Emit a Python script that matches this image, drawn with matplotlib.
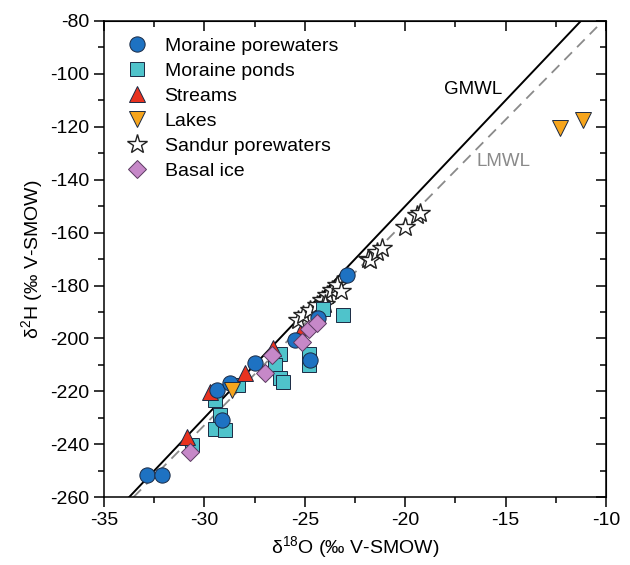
import numpy as np
import matplotlib.pyplot as plt
from matplotlib.ticker import MultipleLocator

plt.rcParams['font.family'] = ['Liberation Sans', 'DejaVu Sans']
plt.rcParams['mathtext.fontset'] = 'custom'
plt.rcParams['mathtext.rm'] = 'Liberation Sans'
plt.rcParams['axes.unicode_minus'] = False

# data (d18O, d2H)
moraine_pw_x = [-32.87, -32.10, -29.14, -29.39, -28.73, -27.48, -25.49, -24.74, -24.33, -22.91]
moraine_pw_y = [-251.6, -251.6, -230.9, -219.6, -217.0, -209.2, -200.7, -208.2, -192.4, -176.1]

ponds_x = [-26.24, -26.48, -26.24, -26.07, -24.78, -24.78, -29.47, -28.31, -29.47, -28.97, -30.63, -24.08, -23.11, -29.2]
ponds_y = [-205.7, -210.1, -215.1, -216.4, -205.7, -210.1, -223.3, -217.7, -234.1, -234.7, -240.4, -188.7, -191.2, -229.0]

streams_x = [-30.88, -27.98, -29.72, -26.57, -25.24]
streams_y = [-237.2, -213.2, -220.2, -203.8, -198.1]

lakes_x = [-28.64, -12.29, -11.13]
lakes_y = [-219.3, -120.6, -117.4]

sandur_x = [-25.32, -25.07, -24.74, -24.41, -24.16, -23.91, -23.66, -23.41, -23.2, -24.0,
            -21.84, -21.75, -21.42, -21.17, -20.01, -19.43, -19.26]
sandur_y = [-193.1, -191.2, -189.3, -187.4, -185.5, -183.6, -181.7, -179.9, -182.0, -187.0,
            -169.8, -170.4, -167.3, -166.0, -157.8, -153.4, -152.7]

basal_x = [-30.73, -26.98, -26.65, -25.15, -24.78, -24.41]
basal_y = [-242.8, -213.2, -206.3, -201.3, -196.6, -194.3]

# meteoric water lines
gmwl_slope, gmwl_icpt = 8.0, 10.0
lmwl_slope, lmwl_icpt = 7.7, -1.8

fig = plt.figure(figsize=(6.3, 5.65), dpi=100)
ax = fig.add_axes([0.165, 0.12, 0.797, 0.843])

xg = np.array([-35, -10])
ax.plot(xg, gmwl_slope * xg + gmwl_icpt, color='black', lw=1.4, zorder=1)
xl = np.array([(-260 - lmwl_icpt) / lmwl_slope, -10.45])
ax.plot(xl, lmwl_slope * xl + lmwl_icpt, color='#8a8a8a', lw=1.3, ls=(0, (6, 4)), zorder=1)

ec = '#1b2a44'
h_star, = ax.plot(sandur_x, sandur_y, ls='none', marker='*', ms=15, mfc='white', mec='#222222', mew=1.0, zorder=2)
h_sq, = ax.plot(ponds_x, ponds_y, ls='none', marker='s', ms=9.5, mfc='#4fc3cb', mec=ec, mew=0.7, zorder=3)
h_tri, = ax.plot(streams_x, streams_y, ls='none', marker='^', ms=12, mfc='#e8321f', mec=ec, mew=0.7, zorder=4)
h_circ, = ax.plot(moraine_pw_x, moraine_pw_y, ls='none', marker='o', ms=11, mfc='#1e72c2', mec=ec, mew=0.7, zorder=5)
h_lake, = ax.plot(lakes_x, lakes_y, ls='none', marker='v', ms=12, mfc='#f6a51d', mec=ec, mew=0.7, zorder=6)
h_dia, = ax.plot(basal_x, basal_y, ls='none', marker='D', ms=9, mfc='#c688c8', mec='#5a3a60', mew=0.7, zorder=7)

ax.text(-18.05, -106.1, 'GMWL', fontsize=13.5, color='black', va='center')
ax.text(-16.45, -133.2, 'LMWL', fontsize=13.5, color='#8a8a8a', va='center')

ax.legend([h_circ, h_sq, h_tri, h_lake, h_star, h_dia],
          ['Moraine porewaters', 'Moraine ponds', 'Streams', 'Lakes', 'Sandur porewaters', 'Basal ice'],
          loc='upper left', bbox_to_anchor=(0.02, 0.995), frameon=False, fontsize=14,
          handlelength=1.0, handletextpad=0.9, labelspacing=0.38, borderaxespad=0.3)

ax.set_xlim(-35, -10)
ax.set_ylim(-260, -80)
ax.xaxis.set_major_locator(MultipleLocator(5))
ax.xaxis.set_minor_locator(MultipleLocator(2.5))
ax.yaxis.set_major_locator(MultipleLocator(20))
ax.yaxis.set_minor_locator(MultipleLocator(10))
ax.tick_params(which='major', direction='out', length=7, width=1.1, labelsize=14)
ax.tick_params(which='minor', direction='out', length=4, width=1.1)
for s in ax.spines.values():
    s.set_linewidth(1.1)

top = ax.secondary_xaxis('top')
top.xaxis.set_major_locator(MultipleLocator(5))
top.xaxis.set_minor_locator(MultipleLocator(2.5))
top.tick_params(which='major', direction='in', length=7, width=1.1, labeltop=False)
top.tick_params(which='minor', direction='in', length=4, width=1.1)
right = ax.secondary_yaxis('right')
right.yaxis.set_major_locator(MultipleLocator(20))
right.yaxis.set_minor_locator(MultipleLocator(10))
right.tick_params(which='major', direction='in', length=7, width=1.1, labelright=False)
right.tick_params(which='minor', direction='in', length=4, width=1.1)

ax.set_xlabel(r'$\mathregular{\delta^{18}}$O (‰ V-SMOW)', fontsize=14, labelpad=4)
ax.set_ylabel(r'$\mathregular{\delta^{2}}$H (‰ V-SMOW)', fontsize=14, labelpad=4)

fig.savefig('out.png', dpi=100)
